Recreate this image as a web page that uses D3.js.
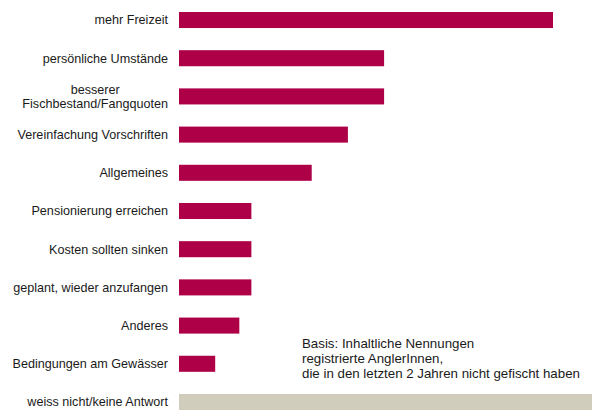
<!DOCTYPE html>
<html>
<head>
<meta charset="utf-8">
<script src="https://cdn.jsdelivr.net/npm/d3@7"></script>
<style>
    body { margin: 0; background: #fff; }
    text { font-family: 'Liberation Sans', Arial, sans-serif; fill: #1a1a1a; }
    .label { font-size: 12.6px; }
    .note { font-size: 13.3px; }
</style>
</head>
<body>
<div class="bar-chart-container"></div>
<script>
// answers (top to bottom), second element = line break in label
const categories = [
    ['mehr Freizeit'],
    ['persönliche Umstände'],
    ['besserer', 'Fischbestand/Fangquoten'],
    ['Vereinfachung Vorschriften'],
    ['Allgemeines'],
    ['Pensionierung erreichen'],
    ['Kosten sollten sinken'],
    ['geplant, wieder anzufangen'],
    ['Anderes'],
    ['Bedingungen am Gewässer'],
    ['weiss nicht/keine Antwort']
];
const values = [31, 17, 17, 14, 11, 6, 6, 6, 5, 3, 35];
const noteLines = [
    'Basis: Inhaltliche Nennungen',
    'registrierte AnglerInnen,',
    'die in den letzten 2 Jahren nicht gefischt haben'
];

const svg_width = 592;
const svg_height = 412;
const bar_left = 179;

const svg = d3.select('.bar-chart-container')
    .append('svg')
    .attr('width', svg_width)
    .attr('height', svg_height);

const data = categories.map((c, i) => ({ id: i, label: c, value: values[i] }));

//scale
const xScale = d3.scaleLinear([0, 31], [0, 374]);
const yScale = d3.scaleBand()
    .domain(data.map(d => d.id))
    .range([12, 410])
    .paddingInner(0.58)
    .paddingOuter(0);

svg.selectAll('.bar')
    .data(data)
    .enter()
    .append('rect')
    .attr('class', 'bar')
    .attr('x', bar_left)
    .attr('y', d => yScale(d.id))
    .attr('width', d => xScale(d.value))
    .attr('height', yScale.bandwidth())
    .style('fill', d => d.id === data.length - 1 ? '#d0cdbd' : '#ae0047');

// labels
const labels = svg.selectAll('.label')
    .data(data)
    .enter()
    .append('text')
    .attr('class', 'label')
    .attr('transform', d => `translate(168,${yScale(d.id) + yScale.bandwidth() / 2})`);
labels.each(function(d) {
    const t = d3.select(this);
    if (d.label.length === 1) {
        t.append('tspan')
            .attr('x', 0)
            .attr('dy', '0.35em')
            .attr('text-anchor', 'end')
            .text(d.label[0]);
    } else {
        // two line label, centred as a block
        const spans = d.label.map((line, k) => t.append('tspan')
            .attr('y', (k - 0.5) * 14)
            .attr('dy', '0.35em')
            .attr('text-anchor', 'middle')
            .text(line));
        const w = d3.max(spans, s => s.node().getComputedTextLength());
        spans.forEach(s => s.attr('x', -w / 2));
    }
});

// note
const note = svg.append('text')
    .attr('class', 'note')
    .attr('transform', 'translate(302,348)');
note.selectAll('tspan')
    .data(noteLines)
    .enter()
    .append('tspan')
    .attr('x', 0)
    .attr('y', (d, i) => i * 15)
    .text(d => d);
</script>
</body>
</html>
